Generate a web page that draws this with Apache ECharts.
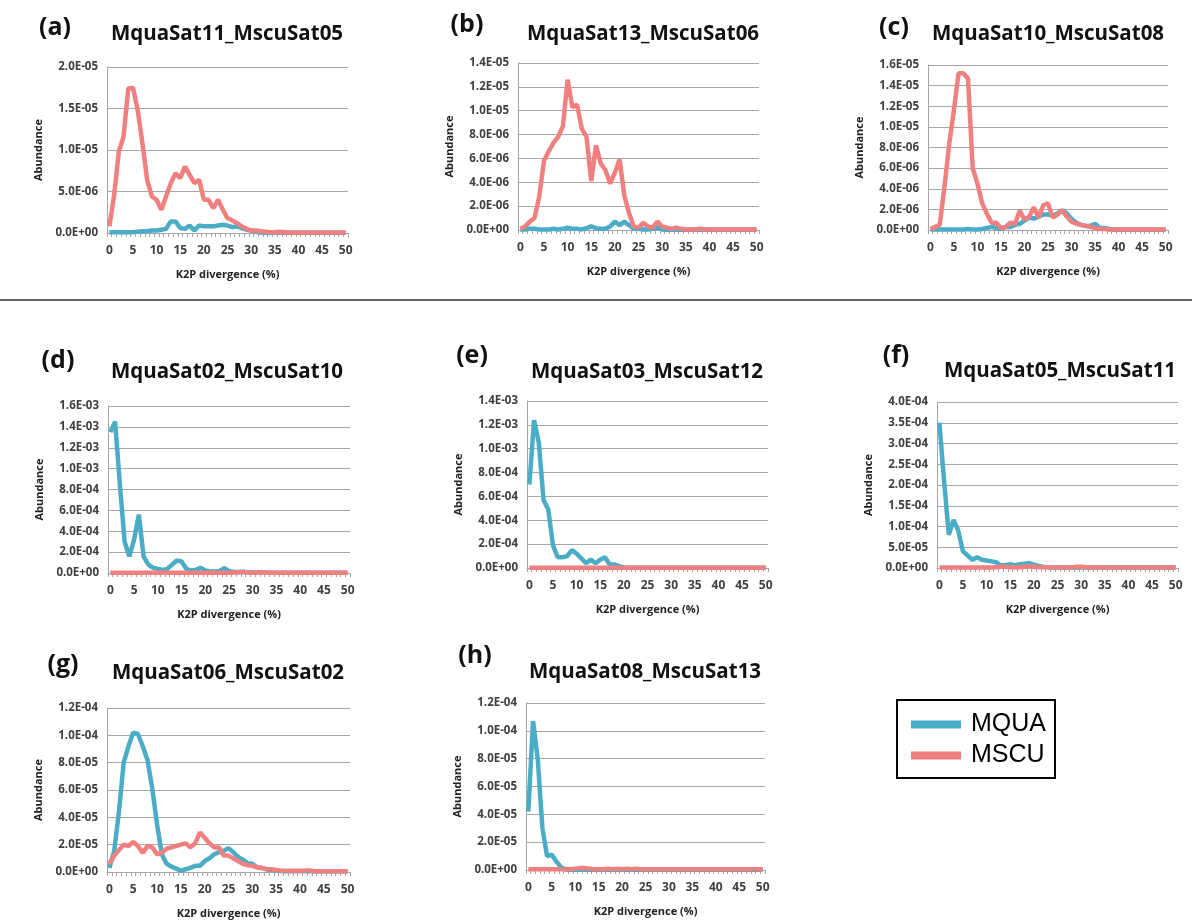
<!DOCTYPE html>
<html><head><meta charset="utf-8">
<script src="https://cdn.jsdelivr.net/npm/echarts@6/dist/echarts.min.js"></script>
<style>html,body{margin:0;padding:0;background:#fff}#c{width:1192px;height:920px}</style>
</head><body><div id="c"></div>
<script>
// ---- data ----
const divergence = Array.from({length: 51}, (_, i) => String(i)); // K2P divergence categories 0..50
const seriesNames = ['MQUA', 'MSCU'];
const panelLetters = ['(a)','(b)','(c)','(d)','(e)','(f)','(g)','(h)'];
const panelTitles = ['MquaSat11_MscuSat05','MquaSat13_MscuSat06','MquaSat10_MscuSat08','MquaSat02_MscuSat10','MquaSat03_MscuSat12','MquaSat05_MscuSat11','MquaSat06_MscuSat02','MquaSat08_MscuSat13'];
// y-axis units (values below are in these units), max and tick step
const yUnits = [1e-6, 1e-6, 1e-6, 1e-4, 1e-4, 1e-5, 1e-5, 1e-5];
const yMax   = [20, 14, 16, 16, 14, 40, 12, 12];
const yStep  = [5, 2, 2, 2, 2, 5, 2, 2];

// (a) units 1e-6
const a_MQUA = [0.1,0.1,0.1,0.1,0.1,0.1,0.15,0.2,0.2,0.3,0.3,0.4,0.5,1.4,1.4,0.6,0.5,0.9,0.3,0.9,0.8,0.8,0.8,0.9,1.0,0.9,0.7,0.8,0.6,0.4,0.3,0.15,0.05,0.02,0.02,0.02,0.02,0.02,0.02,0.02,0.02,0.02,0.02,0.02,0.02,0.02,0.02,0.02,0.02,0.02,0.02];
const a_MSCU = [0.8,4.5,9.8,11.6,17.4,17.5,14.8,10.8,6.4,4.4,4.0,2.8,4.4,6.0,7.2,6.6,8.0,7.0,6.0,6.4,4.0,4.0,3.0,4.0,2.8,1.8,1.5,1.2,0.8,0.5,0.3,0.3,0.2,0.15,0.1,0.1,0.15,0.1,0.05,0.05,0.05,0.05,0.05,0.05,0.05,0.05,0.05,0.05,0.05,0.05,0.05];
// (b) units 1e-6
const b_MQUA = [0.05,0.05,0.1,0.1,0.05,0.05,0.05,0.1,0.05,0.1,0.2,0.1,0.1,0.05,0.15,0.3,0.15,0.1,0.1,0.3,0.7,0.4,0.7,0.4,0.1,0.1,0.05,0.05,0.1,0.2,0.05,0.02,0.02,0.02,0.02,0.02,0.02,0.02,0.02,0.02,0.02,0.02,0.02,0.02,0.02,0.02,0.02,0.02,0.02,0.02,0.02];
const b_MSCU = [0.1,0.3,0.7,1.0,2.8,5.8,6.6,7.3,7.8,8.7,12.6,10.3,10.5,8.5,7.8,4.1,7.1,5.6,5.0,3.9,4.8,5.9,2.9,1.4,0.3,0.2,0.6,0.3,0.2,0.7,0.3,0.2,0.1,0.2,0.1,0.05,0.05,0.05,0.1,0.05,0.05,0.05,0.05,0.05,0.05,0.05,0.05,0.05,0.05,0.05,0.05];
// (c) units 1e-6
const c_MQUA = [0.05,0.05,0.05,0.05,0.05,0.05,0.05,0.05,0.1,0.05,0.05,0.1,0.2,0.3,0.2,0.1,0.3,0.3,0.5,0.6,0.9,1.2,1.1,1.3,1.5,1.5,1.4,1.6,1.9,1.6,1.1,0.7,0.5,0.4,0.4,0.6,0.2,0.2,0.1,0.03,0.03,0.03,0.03,0.03,0.03,0.03,0.03,0.03,0.03,0.03,0.03];
const c_MSCU = [0.1,0.3,0.5,4.2,8.3,11.6,15.2,15.2,14.7,6.0,4.5,2.6,1.6,0.7,0.7,0.2,0.3,0.7,0.6,1.9,1.0,1.3,2.2,1.2,2.4,2.6,1.2,1.5,1.9,1.3,0.8,0.6,0.5,0.4,0.3,0.2,0.1,0.1,0.05,0.05,0.05,0.05,0.05,0.05,0.05,0.05,0.05,0.05,0.05,0.05,0.05];
// (d) units 1e-4
const d_MQUA = [13.5,14.5,8.5,3.0,1.6,3.2,5.6,1.6,0.8,0.5,0.4,0.3,0.4,0.8,1.2,1.1,0.4,0.25,0.3,0.5,0.25,0.15,0.15,0.2,0.45,0.2,0.1,0.1,0.12,0.05,0.05,0.05,0.08,0.03,0.03,0.03,0.03,0.03,0.03,0.03,0.03,0.03,0.03,0.03,0.03,0.03,0.03,0.03,0.03,0.03,0.03];
const d_MSCU = [0.03,0.03,0.03,0.03,0.03,0.03,0.03,0.03,0.03,0.03,0.03,0.03,0.03,0.03,0.03,0.03,0.03,0.03,0.03,0.03,0.03,0.03,0.03,0.03,0.03,0.03,0.05,0.08,0.1,0.05,0.03,0.05,0.08,0.03,0.03,0.03,0.03,0.03,0.03,0.03,0.03,0.03,0.03,0.03,0.03,0.03,0.03,0.03,0.03,0.03,0.03];
// (e) units 1e-4
const e_MQUA = [7.0,12.4,10.5,5.7,4.9,1.9,0.9,0.9,1.0,1.5,1.2,0.8,0.4,0.7,0.4,0.7,0.9,0.3,0.3,0.15,0.05,0.02,0.02,0.02,0.02,0.02,0.02,0.02,0.02,0.02,0.02,0.02,0.02,0.02,0.02,0.02,0.02,0.02,0.02,0.02,0.02,0.02,0.02,0.02,0.02,0.02,0.02,0.02,0.02,0.02,0.02];
const e_MSCU = [0.03,0.03,0.03,0.03,0.03,0.03,0.03,0.03,0.03,0.03,0.03,0.03,0.03,0.03,0.03,0.03,0.03,0.03,0.03,0.03,0.03,0.03,0.03,0.03,0.03,0.03,0.03,0.03,0.03,0.03,0.03,0.03,0.03,0.03,0.03,0.03,0.03,0.03,0.03,0.03,0.03,0.03,0.03,0.03,0.03,0.03,0.03,0.03,0.03,0.03,0.03];
// (f) units 1e-5
const f_MQUA = [35,21,8.0,11.6,9.0,4.0,3.0,2.0,2.6,2.0,1.8,1.6,1.4,0.6,0.7,0.9,0.6,0.9,1.0,1.2,0.8,0.5,0.3,0.2,0.1,0.1,0.1,0.1,0.1,0.1,0.1,0.1,0.1,0.1,0.1,0.1,0.1,0.1,0.1,0.1,0.1,0.1,0.1,0.1,0.1,0.1,0.1,0.1,0.1,0.1,0.1];
const f_MSCU = [0.1,0.1,0.1,0.1,0.1,0.1,0.1,0.1,0.1,0.1,0.1,0.1,0.2,0.3,0.3,0.2,0.1,0.2,0.3,0.4,0.3,0.2,0.2,0.2,0.2,0.1,0.1,0.1,0.1,0.3,0.3,0.2,0.1,0.1,0.1,0.1,0.1,0.1,0.1,0.1,0.1,0.1,0.1,0.1,0.1,0.1,0.1,0.1,0.1,0.1,0.1];
// (g) units 1e-5
const g_MQUA = [0.3,1.5,4.4,8.0,9.2,10.2,10.1,9.2,8.2,6.1,3.5,1.3,0.6,0.4,0.25,0.1,0.2,0.3,0.45,0.45,0.8,1.0,1.3,1.45,1.55,1.75,1.45,1.1,0.9,0.65,0.6,0.35,0.3,0.2,0.15,0.1,0.08,0.05,0.05,0.05,0.05,0.05,0.05,0.05,0.05,0.05,0.05,0.05,0.05,0.05,0.05];
const g_MSCU = [0.6,1.2,1.6,2.0,1.9,2.2,1.9,1.4,1.9,1.8,1.3,1.4,1.7,1.8,1.9,2.0,2.1,1.8,2.1,2.9,2.5,2.1,1.8,1.8,1.2,1.2,1.0,0.8,0.6,0.5,0.45,0.35,0.3,0.2,0.2,0.15,0.1,0.1,0.1,0.1,0.1,0.1,0.12,0.05,0.05,0.05,0.05,0.05,0.05,0.05,0.05];
// (h) units 1e-5
const h_MQUA = [4.2,10.7,8.0,3.0,1.0,1.1,0.6,0.2,0.03,0.02,0.02,0.02,0.02,0.02,0.02,0.02,0.02,0.02,0.02,0.02,0.02,0.02,0.02,0.02,0.02,0.02,0.02,0.02,0.02,0.02,0.02,0.02,0.02,0.02,0.02,0.02,0.02,0.02,0.02,0.02,0.02,0.02,0.02,0.02,0.02,0.02,0.02,0.02,0.02,0.02,0.02];
const h_MSCU = [0.05,0.05,0.05,0.05,0.05,0.05,0.05,0.05,0.05,0.05,0.1,0.15,0.15,0.1,0.05,0.05,0.05,0.1,0.05,0.1,0.05,0.1,0.05,0.1,0.05,0.05,0.05,0.05,0.05,0.05,0.05,0.05,0.05,0.05,0.05,0.05,0.05,0.05,0.05,0.05,0.05,0.05,0.05,0.05,0.05,0.05,0.05,0.05,0.05,0.05,0.05];

const mquaData = [a_MQUA,b_MQUA,c_MQUA,d_MQUA,e_MQUA,f_MQUA,g_MQUA,h_MQUA];
const mscuData = [a_MSCU,b_MSCU,c_MSCU,d_MSCU,e_MSCU,f_MSCU,g_MSCU,h_MSCU];

// ---- layout (positions/styles) ----
const grids = [
  {left:107, top:67,  width:241, height:166},
  {left:518, top:63,  width:241, height:167},
  {left:928, top:65,  width:240, height:165},
  {left:108, top:406, width:242, height:167},
  {left:527, top:401, width:241, height:167},
  {left:937, top:402, width:241, height:166},
  {left:107, top:708, width:243, height:167},
  {left:526, top:703, width:239, height:167}
];
const letterPos = [[55,28],[467,25],[894,28],[58,361],[472,356],[896,356],[63,665],[475,656]];
const titlePos  = [[227,34],[643,34],[1048,34],[227,372],[647,372],[1060,371],[228,673],[645,672]];

const COL_MQUA = '#4BACC6';
const COL_MSCU = '#F08080';
const FONT = '"Open Sans", Lato, sans-serif';

function fmtE(v, unit) {
  const s = (v * unit).toExponential(1);
  const parts = s.split('e');
  const sign = parts[1][0];
  const d = parts[1].slice(1).padStart(2, '0');
  return parts[0] + 'E' + sign + d;
}

const xAxes = [], yAxes = [], series = [], graphics = [];
grids.forEach((g, i) => {
  xAxes.push({
    type: 'category', gridIndex: i, data: divergence, boundaryGap: true,
    name: 'K2P divergence (%)', nameLocation: 'middle', nameGap: 36,
    nameTextStyle: {fontFamily: FONT, fontWeight: 'bold', fontSize: 11, color: '#222'},
    axisLine: {lineStyle: {color: '#a6a6a6', width: 1}},
    axisTick: {show: true, interval: 0, length: 4, lineStyle: {color: '#a6a6a6'}},
    axisLabel: {interval: 4, margin: 12, fontFamily: FONT, fontWeight: 'bold', fontSize: 12, color: '#404040'},
    splitLine: {show: false}
  });
  const unit = yUnits[i];
  yAxes.push({
    type: 'value', gridIndex: i, min: 0, max: yMax[i], interval: yStep[i],
    name: 'Abundance', nameLocation: 'middle', nameGap: 63, nameRotate: 90,
    nameTextStyle: {fontFamily: FONT, fontWeight: 'bold', fontSize: 11, color: '#222'},
    axisLine: {show: true, lineStyle: {color: '#a6a6a6', width: 1}},
    axisTick: {show: false},
    axisLabel: {margin: 9, fontFamily: FONT, fontWeight: 'bold', fontSize: 11.5, color: '#404040',
      formatter: v => fmtE(v, unit)},
    splitLine: {show: true, lineStyle: {color: '#a6a6a6', width: 1}}
  });
  series.push({
    name: seriesNames[0], type: 'line', xAxisIndex: i, yAxisIndex: i, data: mquaData[i],
    showSymbol: false, symbol: 'none', lineStyle: {color: COL_MQUA, width: 4.5}, itemStyle: {color: COL_MQUA},
    animation: false
  });
  series.push({
    name: seriesNames[1], type: 'line', xAxisIndex: i, yAxisIndex: i, data: mscuData[i],
    showSymbol: false, symbol: 'none', lineStyle: {color: COL_MSCU, width: 4.5}, itemStyle: {color: COL_MSCU},
    animation: false
  });
  graphics.push({type: 'text', x: letterPos[i][0], y: letterPos[i][1],
    style: {text: panelLetters[i], font: 'bold 25px ' + FONT, fill: '#111', textAlign: 'center', textVerticalAlign: 'middle'}});
  graphics.push({type: 'text', x: titlePos[i][0], y: titlePos[i][1],
    style: {text: panelTitles[i], font: 'bold 20.5px ' + FONT, fill: '#111', textAlign: 'center', textVerticalAlign: 'middle'}});
});
graphics.push({type: 'line', shape: {x1: 0, y1: 300, x2: 1192, y2: 300}, style: {stroke: '#333', lineWidth: 1.5}});

const option = {
  backgroundColor: '#fff',
  animation: false,
  grid: grids.map(g => Object.assign({containLabel: false}, g)),
  xAxis: xAxes,
  yAxis: yAxes,
  series: series,
  legend: {
    data: seriesNames, orient: 'vertical', left: 897, top: 700,
    padding: [12, 9, 10, 14], itemGap: 6, itemWidth: 50, itemHeight: 8, icon: 'rect',
    borderColor: '#000', borderWidth: 2, backgroundColor: '#fff',
    textStyle: {fontFamily: '"Liberation Sans", Arial, sans-serif', fontSize: 25, color: '#000', padding: [0, 0, 0, 5]},
    selectedMode: false
  },
  graphic: graphics
};
const chart = echarts.init(document.getElementById('c'), null, {renderer: 'canvas'});
chart.setOption(option);
</script></body></html>
